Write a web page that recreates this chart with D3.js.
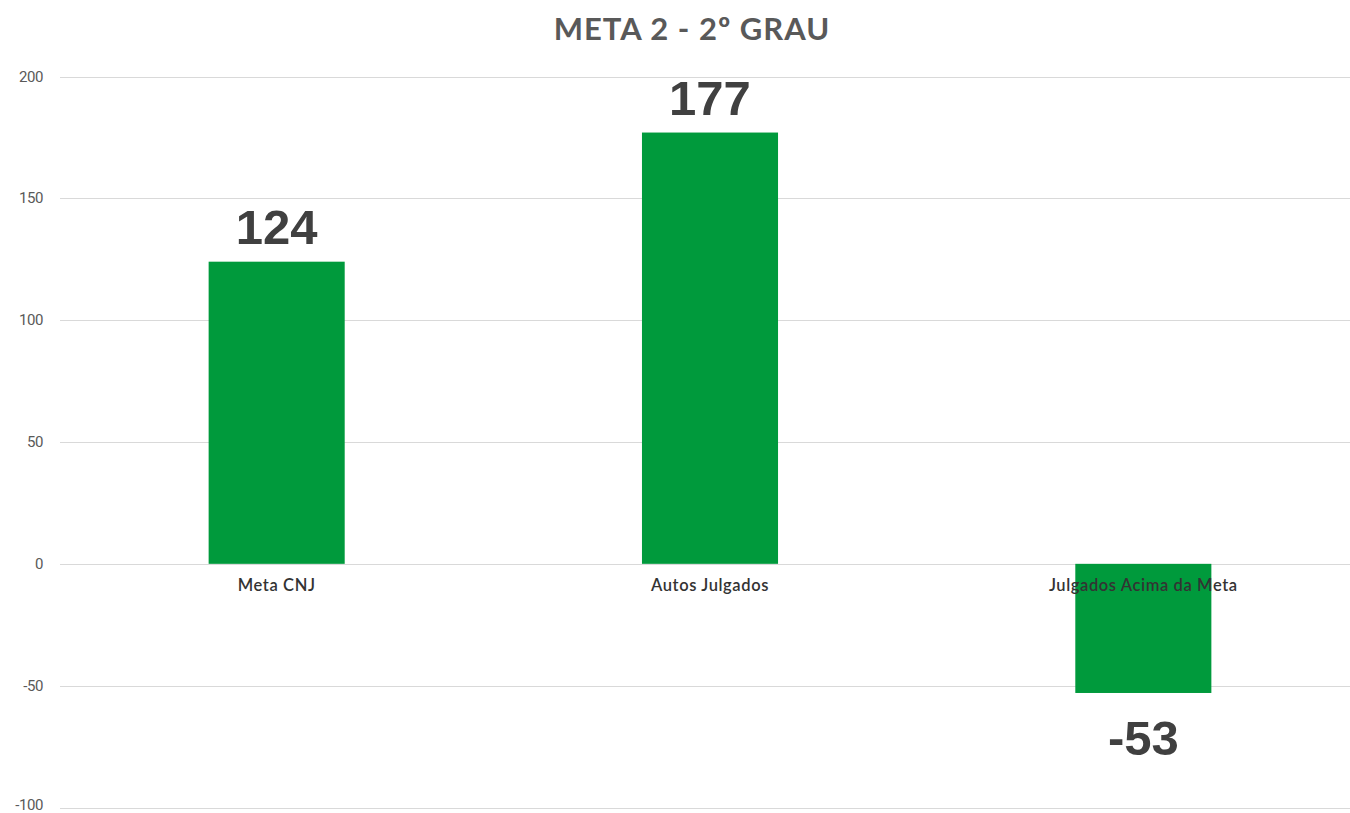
<!DOCTYPE html>
<html>
<head>
<meta charset="utf-8">
<script src="https://cdn.jsdelivr.net/npm/d3@7"></script>
<style>
  html, body { margin: 0; padding: 0; background: #ffffff; }
  svg { display: block; }
</style>
</head>
<body>
<div id="chart"></div>
<script>
// chart data
var categories = ["Meta CNJ", "Autos Julgados", "Julgados Acima da Meta"];
var values = [124, 177, -53];
var yTicks = [200, 150, 100, 50, 0, -50, -100];
var title = "META 2 - 2º GRAU";

var width = 1350, height = 813;
var left = 60, right = 1360;

var svg = d3.select("#chart").append("svg")
  .attr("width", width)
  .attr("height", height);

// scales
var x = d3.scaleBand()
  .domain(categories)
  .range([left, right])
  .paddingInner(0.686)
  .paddingOuter(0.343);

var y = d3.scaleLinear()
  .domain([-100, 200])
  .range([807.5, 76.5]);

// gridlines
svg.append("g").attr("class", "grid")
  .selectAll("line").data(yTicks).enter().append("line")
  .attr("x1", left)
  .attr("x2", width)
  .attr("y1", function(d){ return Math.round(y(d)) + 0.5; })
  .attr("y2", function(d){ return Math.round(y(d)) + 0.5; })
  .attr("stroke", "#d9d9d9")
  .attr("stroke-width", 1);

// y tick labels (the lowest one sits against the bottom edge, as in the original)
svg.append("g").attr("class", "ytick")
  .selectAll("text").data(yTicks).enter().append("text")
  .attr("x", 43)
  .attr("y", function(d){ return Math.min(y(d) + 5, height - 3); })
  .attr("text-anchor", "end")
  .attr("font-family", "Roboto, 'Liberation Sans', Arial, sans-serif")
  .attr("font-size", 15)
  .attr("letter-spacing", "-0.4")
  .attr("fill", "#595959")
  .text(function(d){ return d; });

// bars
svg.append("g").attr("class", "bars")
  .selectAll("rect").data(values).enter().append("rect")
  .attr("x", function(d, i){ return x(categories[i]); })
  .attr("width", x.bandwidth())
  .attr("y", function(d){ return y(Math.max(0, d)); })
  .attr("height", function(d){ return Math.abs(y(d) - y(0)); })
  .attr("fill", "#009a3c");

// category labels
svg.append("g").attr("class", "xlabels")
  .selectAll("text").data(categories).enter().append("text")
  .attr("x", function(d){ return x(d) + x.bandwidth() / 2; })
  .attr("y", 591)
  .attr("text-anchor", "middle")
  .attr("font-family", "Lato, 'Open Sans', sans-serif")
  .attr("font-weight", 600)
  .attr("font-size", 16.5)
  .attr("letter-spacing", "0.6")
  .attr("fill", "#333333")
  .text(function(d){ return d; });

// data labels
svg.append("g").attr("class", "vlabels")
  .selectAll("text").data(values).enter().append("text")
  .attr("x", function(d, i){ return x(categories[i]) + x.bandwidth() / 2; })
  .attr("y", function(d){ return d >= 0 ? y(d) - 18 : y(d) + 62; })
  .attr("text-anchor", "middle")
  .attr("font-family", "'Liberation Sans', Arial, sans-serif")
  .attr("font-weight", "bold")
  .attr("font-size", 49)
  .attr("fill", "#404040")
  .text(function(d){ return d; });

// title
svg.append("text")
  .attr("x", 692)
  .attr("y", 40)
  .attr("text-anchor", "middle")
  .attr("font-family", "Lato, 'Open Sans', sans-serif")
  .attr("font-weight", "bold")
  .attr("font-size", 31)
  .attr("letter-spacing", "1")
  .attr("fill", "#595959")
  .text(title);
</script>
</body>
</html>
